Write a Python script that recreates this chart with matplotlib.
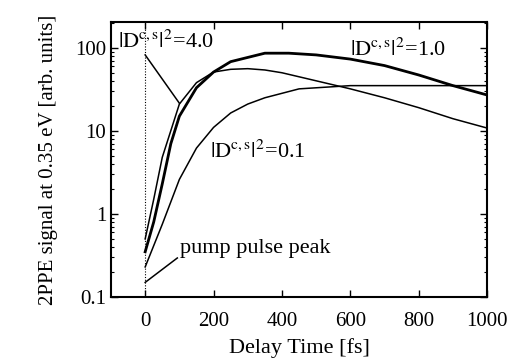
import numpy as np
import matplotlib
matplotlib.use("Agg")
import matplotlib.pyplot as plt
from matplotlib.ticker import LogLocator, FixedLocator, NullFormatter

plt.rcParams['font.family'] = ['Liberation Serif', 'DejaVu Serif']
plt.rcParams['mathtext.fontset'] = 'stix'

# |D|^2 = 4.0 (thin, fast rise)
t_a = [0, 25, 50, 100, 150, 200, 250, 300, 350, 400, 500, 600, 700, 800, 900, 1000]
s_a = [0.5, 1.5, 4.8, 21, 38, 51, 55, 56, 54, 50, 40, 32, 25, 19, 14, 10.8]

# |D|^2 = 1.0 (thick)
t_b = [0, 25, 50, 75, 100, 150, 200, 250, 350, 420, 500, 600, 700, 800, 900, 1000]
s_b = [0.35, 0.8, 2.3, 7, 15, 33, 51, 68, 86, 86, 82, 73, 61, 47, 35, 27]

# |D|^2 = 0.1 (thin, slow rise)
t_c = [0, 50, 100, 150, 200, 250, 300, 350, 450, 600, 700, 800, 900, 1000]
s_c = [0.23, 0.75, 2.6, 6.2, 11, 16.4, 21, 25, 32, 35, 35, 35, 35, 35]

fig = plt.figure(figsize=(5.21, 3.64), dpi=100)
ax = fig.add_axes([0.213, 0.184, 0.722, 0.756])

ax.plot(t_a, s_a, color='black', lw=1.1)
ax.plot(t_b, s_b, color='black', lw=2.0)
ax.plot(t_c, s_c, color='black', lw=1.1)

# pump pulse peak marker
ax.axvline(0, color='black', lw=0.8, ls=(0, (1, 1.5)))

ax.set_yscale('log')
ax.set_xlim(-100, 1000)
ax.set_ylim(0.1, 205)
ax.xaxis.set_major_locator(FixedLocator([0, 200, 400, 600, 800, 1000]))
ax.set_yticks([0.1, 1, 10, 100])
ax.set_yticklabels(['0.1', '1', '10', '100'])
ax.yaxis.set_minor_locator(LogLocator(base=10, subs=np.arange(2, 10)))
ax.yaxis.set_minor_formatter(NullFormatter())

ax.tick_params(which='both', direction='in', top=True, right=True, labelsize=15)
ax.tick_params(which='major', length=5, width=1)
ax.tick_params(which='minor', length=2.5, width=0.8)
ax.tick_params(axis='x', pad=11)
for sp in ax.spines.values():
    sp.set_linewidth(1.5)

ax.set_xlabel('Delay Time [fs]', fontsize=16, labelpad=5)
ax.set_ylabel('2PPE signal at 0.35 eV [arb. units]', fontsize=15, labelpad=12)

lab = r'$|\mathrm{D}^{\mathrm{c,s}}|^2$=%s'
ax.text(-80, 118, lab % '4.0', fontsize=16, va='center', ha='left')
ax.text(600, 95, lab % '1.0', fontsize=16, va='center', ha='left')
ax.text(190, 5.6, lab % '0.1', fontsize=16, va='center', ha='left')
ax.text(102, 0.38, 'pump pulse peak', fontsize=16, va='center', ha='left')

ax.plot([0, 100], [82, 21.5], color='black', lw=1.1)
ax.plot([0, 94], [0.15, 0.295], color='black', lw=1.1)

fig.savefig('out.png', dpi=100)
